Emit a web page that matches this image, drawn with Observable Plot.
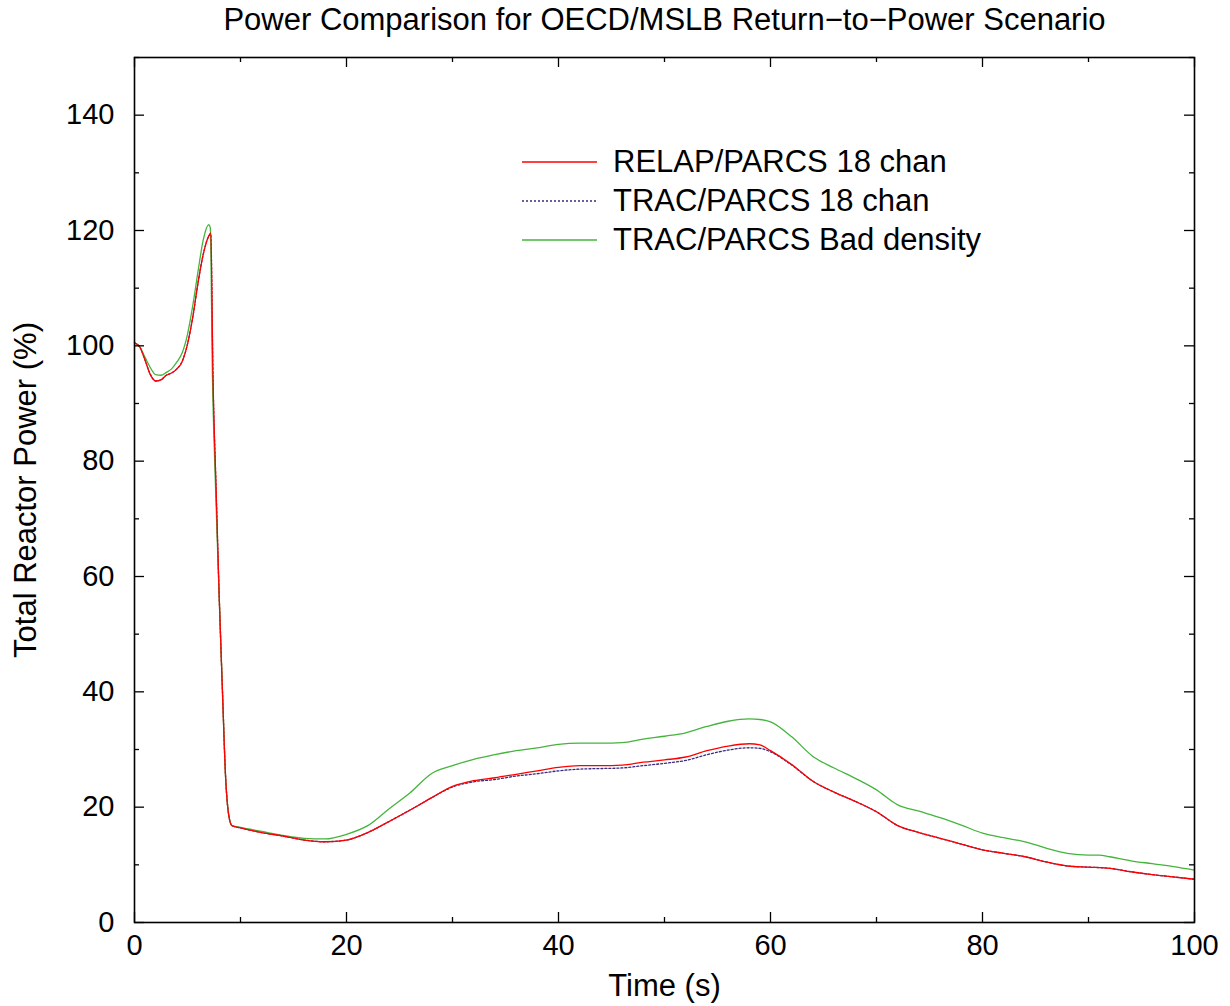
<!DOCTYPE html>
<html>
<head>
<meta charset="utf-8">
<script src="https://cdn.jsdelivr.net/npm/d3@7"></script>
<script src="https://cdn.jsdelivr.net/npm/@observablehq/plot@0.6"></script>
<style>
  html, body { margin: 0; padding: 0; background: #fff; }
  #wrap { position: relative; width: 1230px; height: 1006px; font-family: "Liberation Sans", Arial, sans-serif; }
  #legend { position: absolute; left: 518px; top: 142px; font-size: 31px; color: #000; }
  #legend .row { display: flex; align-items: center; height: 39px; }
  #legend svg { width: 80px; height: 10px; margin-right: 15px; }
</style>
</head>
<body>
<div id="wrap"></div>
<script>
const titleText = "Power Comparison for OECD/MSLB Return\u2212to\u2212Power Scenario";
const xLabel = "Time (s)";
const yLabel = "Total Reactor Power (%)";
const seriesNames = ["RELAP/PARCS 18 chan", "TRAC/PARCS 18 chan", "TRAC/PARCS Bad density"];
const seriesColors = ["#ff0000", "#3a2a80", "#44b43c"];

const xMajor = [0, 20, 40, 60, 80, 100];
const xMinor = [10, 30, 50, 70, 90];
const yMajor = [0, 20, 40, 60, 80, 100, 120, 140];
const yMinor = [10, 30, 50, 70, 90, 110, 130, 150];

const relapT = [0,0.5,1,1.5,2,2.5,3,3.5,4,4.5,5,5.5,6,6.5,7,7.2,7.4,7.7,8,8.3,8.6,8.9,9.2,10,12,14,16,18,20,22,24,26,28,30,32,34,36,38,40,42,44,46,48,50,52,54,56,58,59,60,62,64,66,68,70,72,74,76,78,80,82,84,86,88,90,92,94,96,98,100];
const relapP = [100.5,99.8,97.5,95,93.9,94.1,94.9,95.3,96,97.3,100.3,105,111,116,119,119.6,95,75,56,40,25,18.5,16.8,16.4,15.6,15.0,14.3,14.0,14.3,15.6,17.5,19.5,21.6,23.6,24.6,25.1,25.7,26.3,26.9,27.2,27.2,27.3,27.8,28.2,28.7,29.8,30.6,31.0,30.8,29.8,27.4,24.5,22.6,21.0,19.2,16.8,15.6,14.6,13.6,12.6,12.0,11.4,10.5,9.8,9.6,9.4,8.8,8.3,7.9,7.5];

const trac18T = relapT;
const trac18P = [100.5,99.8,97.5,95,93.9,94.1,94.9,95.3,96,97.3,100.3,105,111,116,119,119.4,95,75,56,40,25,18.5,16.8,16.4,15.6,15.0,14.3,14.0,14.3,15.6,17.5,19.5,21.6,23.5,24.4,24.8,25.4,25.8,26.3,26.6,26.7,26.8,27.2,27.6,28.1,29.1,29.9,30.3,30.2,29.6,27.3,24.5,22.6,21.0,19.2,16.8,15.6,14.6,13.6,12.6,12.0,11.4,10.5,9.8,9.6,9.4,8.8,8.3,7.9,7.5];

const badT = [0,0.5,1,1.5,2,2.5,3,3.5,4,4.5,5,5.5,6,6.5,7,7.15,7.35,7.6,8,8.3,8.6,8.9,9.2,10,12,14,16,18,20,22,24,26,28,30,32,34,36,38,40,42,44,46,48,50,52,54,56,58,59,60,62,64,66,68,70,72,74,76,78,80,82,84,86,88,90,91,92,94,96,98,100];
const badP = [100.5,99.8,98,96.2,95,94.9,95.4,96,97.2,98.8,102,107,113,118.5,121,120.5,95,78,56,40,25,18.5,16.8,16.5,15.8,15.1,14.6,14.5,15.3,16.8,19.7,22.5,25.8,27.2,28.3,29.1,29.8,30.3,30.9,31.1,31.1,31.2,31.8,32.3,32.9,34.0,34.9,35.3,35.2,34.8,32.2,28.8,26.8,25.0,23.0,20.4,19.3,18.2,16.9,15.5,14.7,14.0,12.9,12.0,11.7,11.7,11.4,10.7,10.2,9.7,9.1];

const toRows = (ts, ps) => ts.map((t, i) => ({t, p: ps[i]}));
const relap = toRows(relapT, relapP);
const trac18 = toRows(trac18T, trac18P);
const bad = toRows(badT, badP);

const W = 1230, H = 1006, mL = 134, mR = 36, mT = 57, mB = 84;
const fW = W - mL - mR, fH = H - mT - mB;
const majorLen = 10, minorLen = 5;
const font = "Liberation Sans, Arial, sans-serif";

const chart = Plot.plot({
  width: W, height: H,
  marginLeft: mL, marginRight: mR, marginTop: mT, marginBottom: mB,
  style: {fontFamily: font, fontSize: "29px", color: "#000", background: "#fff"},
  x: {domain: [0, 100]},
  y: {domain: [0, 150]},
  marks: [
    Plot.line(trac18, {x: "t", y: "p", stroke: seriesColors[1], strokeWidth: 1.3, strokeDasharray: "2,2", curve: "monotone-x"}),
    Plot.line(bad, {x: "t", y: "p", stroke: seriesColors[2], strokeWidth: 1.3, curve: "monotone-x"}),
    Plot.line(relap, {x: "t", y: "p", stroke: seriesColors[0], strokeWidth: 1.3, curve: "monotone-x"}),
    Plot.tickX(xMajor, {x: d => d, insetTop: fH - majorLen, stroke: "#000", strokeWidth: 1.3}),
    Plot.tickX(xMinor, {x: d => d, insetTop: fH - minorLen, stroke: "#000", strokeWidth: 1.3}),
    Plot.tickX(xMajor, {x: d => d, insetBottom: fH - majorLen, stroke: "#000", strokeWidth: 1.3}),
    Plot.tickX(xMinor, {x: d => d, insetBottom: fH - minorLen, stroke: "#000", strokeWidth: 1.3}),
    Plot.tickY(yMajor, {y: d => d, insetRight: fW - majorLen, stroke: "#000", strokeWidth: 1.3}),
    Plot.tickY(yMinor, {y: d => d, insetRight: fW - minorLen, stroke: "#000", strokeWidth: 1.3}),
    Plot.tickY(yMajor, {y: d => d, insetLeft: fW - majorLen, stroke: "#000", strokeWidth: 1.3}),
    Plot.tickY(yMinor, {y: d => d, insetLeft: fW - minorLen, stroke: "#000", strokeWidth: 1.3}),
    Plot.axisX({ticks: xMajor, tickSize: 0, tickPadding: 12, label: null, fontSize: 29}),
    Plot.axisY({ticks: yMajor, tickSize: 0, tickPadding: 20, label: null, fontSize: 29}),
    Plot.frame({stroke: "#000", strokeWidth: 1.6}),
    Plot.text([titleText], {frameAnchor: "top", lineAnchor: "middle", dy: -37, fontSize: 31, fill: "#000"}),
    Plot.text([xLabel], {frameAnchor: "bottom", lineAnchor: "middle", dy: 64, fontSize: 31, fill: "#000"}),
    Plot.text([yLabel], {frameAnchor: "left", textAnchor: "middle", lineAnchor: "middle", dx: -108, rotate: -90, fontSize: 31, fill: "#000"})
  ]
});

const wrap = document.getElementById("wrap");
wrap.appendChild(chart);

const legend = document.createElement("div");
legend.id = "legend";
seriesNames.forEach((name, i) => {
  const row = document.createElement("div");
  row.className = "row";
  const dash = i === 1 ? 'stroke-dasharray="2,2"' : "";
  row.innerHTML = `<svg viewBox="0 0 80 10"><line x1="4" x2="79" y1="5" y2="5" stroke="${seriesColors[i]}" stroke-width="1.3" ${dash}/></svg><span>${name}</span>`;
  legend.appendChild(row);
});
wrap.appendChild(legend);
</script>
</body>
</html>
